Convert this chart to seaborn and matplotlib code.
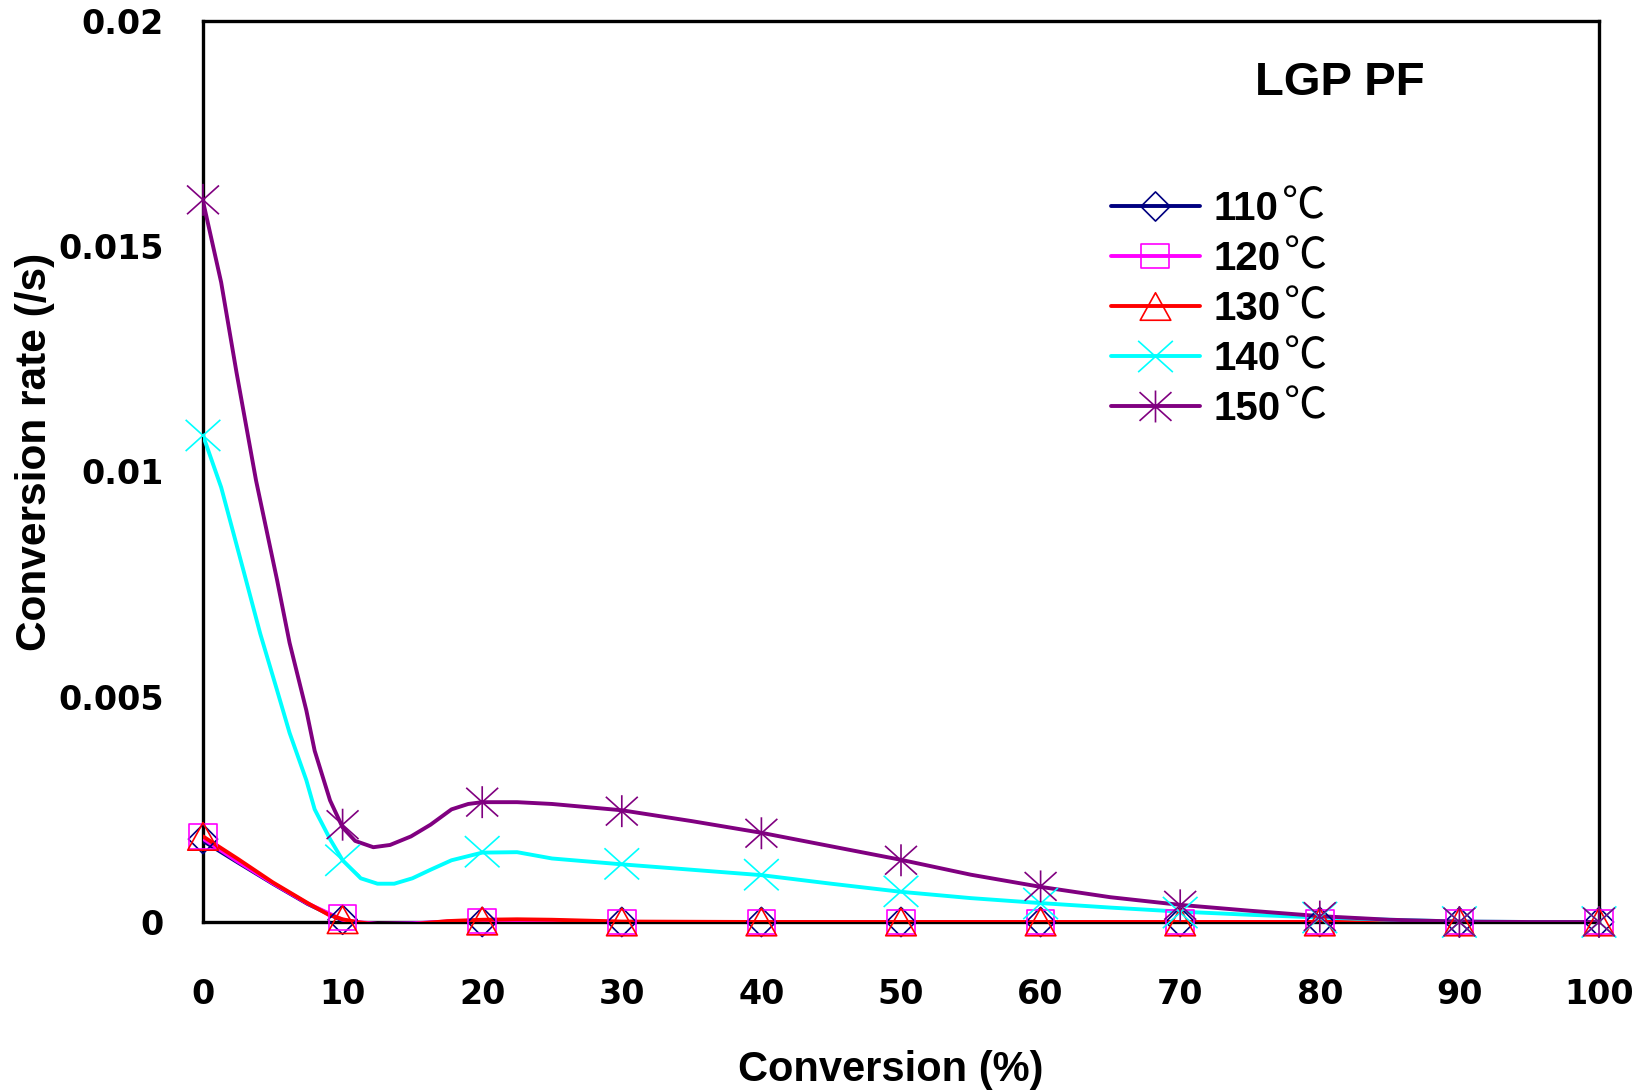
import numpy as np
import pandas as pd
import matplotlib
matplotlib.use("Agg")
import matplotlib.pyplot as plt
from matplotlib.path import Path
from matplotlib.lines import Line2D
from matplotlib.transforms import IdentityTransform
from matplotlib import font_manager
import seaborn as sns

# ---------------- data ----------------
series_names = ["110", "120", "130", "140", "150"]
series_colors = ["#000080", "#FF00FF", "#FF0000", "#00FFFF", "#800080"]

marker_x = [0, 10, 20, 30, 40, 50, 60, 70, 80, 90, 100]
marker_110 = [0.00184, 0.00005, 0.0, 0.0, 0.0, 0.0, 0.0, 0.0, 0.0, 0.0, 0.0]
marker_120 = [0.00190, 0.00010, 0.00002, 0.0, 0.0, 0.0, 0.0, 0.0, 0.0, 0.0, 0.0]
marker_130 = [0.00190, 0.00005, 0.00002, 0.0, 0.0, 0.0, 0.0, 0.0, 0.0, 0.0, 0.0]
marker_140 = [0.01080, 0.00137, 0.00156, 0.00129, 0.00105, 0.00068, 0.00041, 0.00021, 0.00010, 0.0, 0.0]
marker_150 = [0.01603, 0.00216, 0.00266, 0.00246, 0.00197, 0.00137, 0.00079, 0.00037, 0.00012, 0.0, 0.0]

line_x_110 = [0, 2.5, 5, 7.5, 10, 11, 12.5, 15, 17.5, 20, 25, 30, 40, 50, 60, 70, 80, 90, 100]
line_y_110 = [0.00180, 0.00132, 0.00085, 0.00040, 0.00003, -0.00002, -0.00005, -0.00003, 0.0, 0.0, 0.0, 0.0, 0.0, 0.0, 0.0, 0.0, 0.0, 0.0, 0.0]
line_x_120 = [0, 2.5, 5, 7.5, 10, 11, 12.5, 15, 17.5, 20, 25, 30, 40, 50, 60, 70, 80, 90, 100]
line_y_120 = [0.00185, 0.00134, 0.00086, 0.00041, 0.00005, 0.0, -0.00004, -0.00003, 0.00001, 0.00003, 0.00003, 0.0, 0.0, 0.0, 0.0, 0.0, 0.0, 0.0, 0.0]
line_x_130 = [0, 2.5, 5, 7.5, 9, 10, 11, 12.5, 15, 17.5, 20, 22.5, 25, 30, 40, 50, 60, 70, 80, 90, 100]
line_y_130 = [0.00190, 0.00140, 0.00088, 0.00042, 0.00016, 0.00006, 0.0, -0.00006, -0.00005, 0.00002, 0.00005, 0.00006, 0.00005, 0.00001, 0.0, 0.0, 0.0, 0.0, 0.0, 0.0, 0.0]
line_x_140 = [0, 1.3, 2.9, 4.1, 5.3, 6.2, 7.4, 8.0, 9.1, 10.0, 11.3, 12.5, 13.7, 15.0, 16.3, 17.8, 20, 22.5, 25,
              30, 35, 40, 45, 50, 55, 60, 65, 70, 75, 80, 85, 90, 95, 100]
line_y_140 = [0.0108, 0.00965, 0.0078, 0.0064, 0.00515, 0.0042, 0.00315, 0.0025, 0.00184, 0.00137, 0.00097, 0.00085,
              0.00085, 0.00097, 0.00116, 0.00137, 0.00154, 0.00155, 0.00141,
              0.00128, 0.00116, 0.00104, 0.00085, 0.00067, 0.00053, 0.00042, 0.00032, 0.00023, 0.00016, 0.00010,
              0.00005, 0.00001, 0.0, 0.0]
line_x_150 = [0, 1.3, 2.4, 3.8, 5.3, 6.2, 7.4, 8.0, 9.1, 10.0, 10.9, 12.2, 13.4, 14.9, 16.3, 17.8, 19.0, 20, 22.5, 25,
              30, 35, 40, 45, 50, 55, 60, 65, 70, 75, 80, 85, 90, 95, 100]
line_y_150 = [0.0160, 0.0142, 0.0122, 0.0098, 0.0076, 0.0062, 0.0047, 0.0038, 0.0027, 0.0021, 0.0018, 0.00166,
              0.00171, 0.0019, 0.00216, 0.0025, 0.00262, 0.00266, 0.00266, 0.00262,
              0.00248, 0.00224, 0.00198, 0.00168, 0.00138, 0.00105, 0.00078, 0.00055, 0.00038, 0.00025, 0.00013,
              0.00005, 0.00001, 0.0, 0.0]

x_ticks = [0, 10, 20, 30, 40, 50, 60, 70, 80, 90, 100]
x_tick_labels = ["0", "10", "20", "30", "40", "50", "60", "70", "80", "90", "100"]
y_ticks = [0, 0.005, 0.01, 0.015, 0.02]
y_tick_labels = ["0", "0.005", "0.01", "0.015", "0.02"]

x_label = "Conversion (%)"
y_label = "Conversion rate (/s)"
title_text = "LGP PF"
degree_sign = "℃"

# ---------------- markers ----------------
def seg_path(segments):
    verts, codes = [], []
    for (a, b) in segments:
        verts += [a, b]
        codes += [Path.MOVETO, Path.LINETO]
    return Path(verts, codes)

diamond = Path([(0, 1), (1, 0), (0, -1), (-1, 0), (0, 1)], [Path.MOVETO] + [Path.LINETO] * 3 + [Path.CLOSEPOLY])
square = Path([(-1, -0.88), (1, -0.88), (1, 0.88), (-1, 0.88), (-1, -0.88)], [Path.MOVETO] + [Path.LINETO] * 3 + [Path.CLOSEPOLY])
triangle = Path([(0, 0.9), (1, -0.9), (-1, -0.9), (0, 0.9)], [Path.MOVETO] + [Path.LINETO] * 2 + [Path.CLOSEPOLY])
xmark = seg_path([((-1, -0.9), (1, 0.9)), ((-1, 0.9), (1, -0.9))])
star = seg_path([((-1, -0.9), (1, 0.9)), ((-1, 0.9), (1, -0.9)), ((0, -1), (0, 1))])
markers = [diamond, square, triangle, xmark, star]
marker_sizes = [21, 20, 22, 25, 23]  # points

# ---------------- figure ----------------
sns.set_theme(style="white")
plt.rcParams["font.family"] = ["DejaVu Sans"]
plt.rcParams["text.color"] = "black"
plt.rcParams["axes.labelcolor"] = "black"
plt.rcParams["xtick.color"] = "black"
plt.rcParams["ytick.color"] = "black"

W, H = 1648, 1092
fig = plt.figure(figsize=(W / 100, H / 100), dpi=100)
L, R, T, B = 203, 1599, 21, 922
ax = fig.add_axes([L / W, 1 - B / H, (R - L) / W, (B - T) / H])

line_sets = [(line_x_110, line_y_110), (line_x_120, line_y_120), (line_x_130, line_y_130),
             (line_x_140, line_y_140), (line_x_150, line_y_150)]
marker_sets = [marker_110, marker_120, marker_130, marker_140, marker_150]

for i, name in enumerate(series_names):
    lx, ly = line_sets[i]
    df_line = pd.DataFrame({"x": lx, "y": ly})
    sns.lineplot(data=df_line, x="x", y="y", ax=ax, color=series_colors[i], linewidth=2.8,
                 sort=False, estimator=None, legend=False, zorder=2 + i)
for i, name in enumerate(series_names):
    df_m = pd.DataFrame({"x": marker_x, "y": marker_sets[i]})
    sns.scatterplot(data=df_m, x="x", y="y", ax=ax, marker=markers[i], s=marker_sizes[i] ** 2,
                    facecolors="none", edgecolor=series_colors[i], color=series_colors[i],
                    linewidth=1.2, legend=False, zorder=10 + i, clip_on=False)

ax.set_xlim(0, 100)
ax.set_ylim(0, 0.02)
ax.set_xticks(x_ticks)
ax.set_xticklabels(x_tick_labels)
ax.set_yticks(y_ticks)
ax.set_yticklabels(y_tick_labels)
ax.tick_params(axis="x", length=0, pad=40, labelsize=24, labelcolor="black")
ax.tick_params(axis="y", direction="in", length=11, width=1, color="#444444", pad=28, labelsize=24, labelcolor="black")
for lab in ax.get_xticklabels() + ax.get_yticklabels():
    lab.set_fontweight("heavy")
    lab.set_family(["DejaVu Sans"])
for sp in ax.spines.values():
    sp.set_visible(True)
    sp.set_color("black")
    sp.set_linewidth(2.4)
    sp.set_zorder(1)
ax.grid(False)
ax.set_facecolor("white")

ax.set_xlabel(x_label, fontsize=30, fontweight="bold", family=["Liberation Sans", "DejaVu Sans"], va="center", ha="center", color="black")
ax.xaxis.set_label_coords((891 - L) / (R - L), (B - 1070) / (B - T))

names = {f.name for f in font_manager.fontManager.ttflist}
ylab_family = ["Liberation Sans Narrow", "Liberation Sans"] if "Liberation Sans Narrow" in names else ["Liberation Sans"]
ylab_size = 36 if "Liberation Sans Narrow" in names else 30.5
ax.set_ylabel(y_label, fontsize=ylab_size, fontweight="bold", family=ylab_family, va="center", ha="center", color="black")
ax.yaxis.set_label_coords((35 - L) / (R - L), (B - 452) / (B - T))

ax.text((1340 - L) / (R - L), (B - 83) / (B - T), title_text, transform=ax.transAxes, fontsize=34,
        fontweight="bold", family=["Liberation Sans", "DejaVu Sans"], ha="center", va="center", color="black")

handles = [Line2D([0], [0], color=series_colors[i], lw=2.8, marker=markers[i], markersize=marker_sizes[i],
                  markerfacecolor="none", markeredgecolor=series_colors[i], markeredgewidth=1.2)
           for i in range(5)]
leg = fig.legend(handles, series_names, loc="upper left", bbox_to_anchor=(1111 / W, 1 - 190 / H),
                 frameon=False, borderpad=0, borderaxespad=0, handlelength=2.2, handletextpad=0.35,
                 labelspacing=0.30, prop={"family": ["Liberation Sans", "DejaVu Sans"], "weight": "bold", "size": 29})
for t in leg.get_texts():
    t.set_color("black")

fig.canvas.draw()
renderer = fig.canvas.get_renderer()
for t in leg.get_texts():
    bb = t.get_window_extent(renderer)
    fig.text(bb.x1 + 3, bb.y1 + 6, degree_sign, transform=IdentityTransform(), ha="left", va="top",
             fontsize=31, family=["Noto Sans CJK SC", "DejaVu Sans"], fontweight="light", color="black")

fig.savefig("out.png", dpi=100)
